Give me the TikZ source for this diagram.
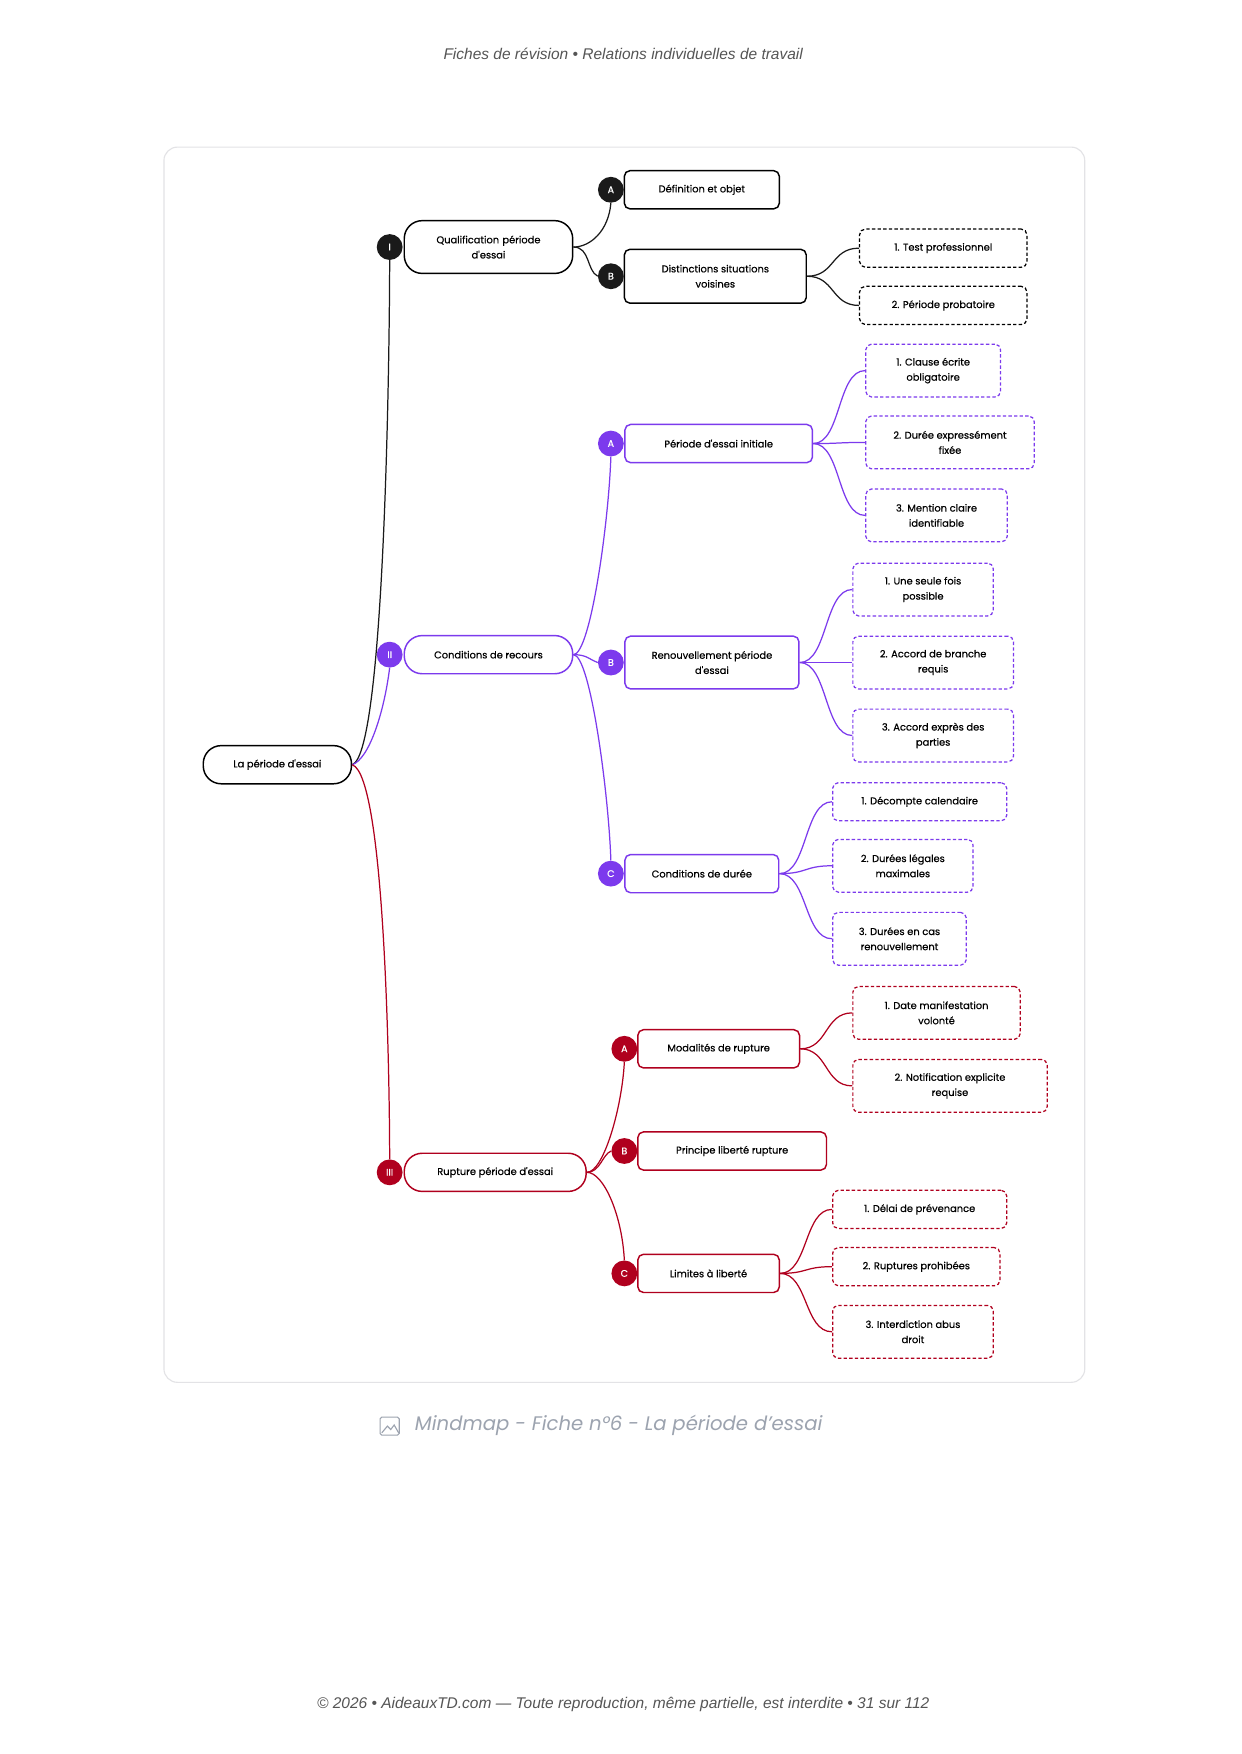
\documentclass[tikz,border=0pt]{standalone}
\usepackage{fontspec}
\setmainfont{Poppins}
\newfontfamily\hdr{Liberation Sans}
\newfontfamily\med[FakeBold=0.5]{Poppins}
\definecolor{cblk}{HTML}{1A1A1A}
\definecolor{cpur}{HTML}{7C3AED}
\definecolor{cred}{HTML}{B0001E}
\definecolor{cfrm}{HTML}{E3E3E6}
\definecolor{ctxt}{HTML}{555555}
\definecolor{ccap}{HTML}{9CA3AF}
\begin{document}
\begin{tikzpicture}[x=1pt,y=-1pt,
 txt/.style={font=\med\fontsize{8.8}{13.5}\selectfont, text=black, align=center},
 box/.style={txt, draw=#1, line width=1.3pt, rounded corners=5pt, inner sep=0pt},
 big/.style={txt, draw=#1, line width=1.3pt, rounded corners=16pt, inner sep=0pt},
 leaf/.style={txt, draw=#1, line width=1.1pt, dashed, dash pattern=on 3pt off 2pt, rounded corners=5pt, inner sep=0pt},
 dot/.style={circle, fill=#1, minimum size=23pt, inner sep=0pt, text=white, font=\med\fontsize{8.5}{9}\selectfont},
 ln/.style={draw=#1, line width=1.1pt}]
\useasboundingbox (0,0) rectangle (1106,1562);
\fill[white] (0,0) rectangle (1106,1562);
\draw[cfrm, line width=1pt, rounded corners=12pt] (146,131) rectangle (966,1231);
\node[font=\hdr\itshape\fontsize{13.8}{15}\selectfont, text=ctxt] at (555,48) {Fiches de révision • Relations individuelles de travail};
\node[font=\hdr\itshape\fontsize{13.8}{15}\selectfont, text=ctxt] at (555,1518) {© 2026 • AideauxTD.com — Toute reproduction, même partielle, est interdite • 31 sur 112};
\node[font=\fontsize{17.5}{20}\selectfont\itshape, text=ccap, anchor=west] (cap) at (366,1269) {Mindmap - Fiche n°6 - La période d'essai};
\node[draw=ccap, line width=1pt, rounded corners=1.5pt, minimum width=17pt, minimum height=16pt] (ic) at (347,1270) {};
\draw[ccap, line width=1pt] (340,1276) -- (345,1270) -- (348,1273) -- (351,1269) -- (355,1276);

% root
\node[big=black, minimum width=132pt, minimum height=34pt] (root) at (247,681) {La période d'essai};
% sections
\node[big=black, text width=140pt, minimum width=150pt, minimum height=47pt] (s1) at (435,220) {Qualification période\\d'essai};
\node[dot=cblk] (c1) at (347,220) {I};
\node[big=cpur, minimum width=150pt, minimum height=34pt] (s2) at (435,583) {Conditions de recours};
\node[dot=cpur] (c2) at (347,583) {II};
\node[big=cred, minimum width=162pt, minimum height=34pt] (s3) at (441,1044) {Rupture période d'essai};
\node[dot=cred] (c3) at (347,1044) {III};
\draw[ln=cblk] (root.east) .. controls +(30,-10) and +(0,60) .. (c1.south);
\draw[ln=cpur] (root.east) .. controls +(15,-5) and +(-5,40) .. (c2.south);
\draw[ln=cred] (root.east) .. controls +(30,10) and +(0,-60) .. (c3.north);

% section I
\node[box=black, minimum width=138pt, minimum height=34pt] (a1) at (625,169) {Définition et objet};
\node[dot=cblk] (a1c) at (544,169) {A};
\node[box=black, minimum width=162pt, minimum height=48pt] (b1) at (637,246) {Distinctions situations\\voisines};
\node[dot=cblk] (b1c) at (544,246) {B};
\draw[ln=cblk] (s1.east) .. controls +(15,0) and +(-2,25) .. (a1c.south);
\draw[ln=cblk] (s1.east) .. controls +(15,0) and +(-10,-5) .. (b1c.west);
\node[leaf=black, minimum width=149pt, minimum height=34pt] (l11) at (840,221) {1. Test professionnel};
\node[leaf=black, minimum width=149pt, minimum height=34pt] (l12) at (840,272) {2. Période probatoire};
\foreach \l in {l11,l12} \draw[ln=cblk] (b1.east) .. controls +(25,0) and +(-25,0) .. (\l.west);

% section II
\node[box=cpur, minimum width=167pt, minimum height=34pt] (a2) at (640,395) {Période d'essai initiale};
\node[dot=cpur] (a2c) at (544,395) {A};
\node[box=cpur, minimum width=155pt, minimum height=47pt] (b2) at (634,590) {Renouvellement période\\d'essai};
\node[dot=cpur] (b2c) at (544,590) {B};
\node[box=cpur, minimum width=137pt, minimum height=34pt] (cc2) at (625,778) {Conditions de durée};
\node[dot=cpur] (c2c) at (544,778) {C};
\draw[ln=cpur] (s2.east) .. controls +(15,0) and +(-2,60) .. (a2c.south);
\draw[ln=cpur] (s2.east) .. controls +(12,0) and +(-8,-3) .. (b2c.west);
\draw[ln=cpur] (s2.east) .. controls +(15,0) and +(-2,-60) .. (c2c.north);
\node[leaf=cpur, minimum width=120pt, minimum height=47pt] (l21) at (831,330) {1. Clause écrite\\obligatoire};
\node[leaf=cpur, minimum width=150pt, minimum height=47pt] (l22) at (846,394) {2. Durée expressément\\fixée};
\node[leaf=cpur, minimum width=126pt, minimum height=47pt] (l23) at (834,459) {3. Mention claire\\identifiable};
\foreach \l in {l21,l22,l23} \draw[ln=cpur] (a2.east) .. controls +(25,0) and +(-25,0) .. (\l.west);
\node[leaf=cpur, minimum width=125pt, minimum height=47pt] (l24) at (822,525) {1. Une seule fois\\possible};
\node[leaf=cpur, minimum width=143pt, minimum height=47pt] (l25) at (831,590) {2. Accord de branche\\requis};
\node[leaf=cpur, minimum width=143pt, minimum height=47pt] (l26) at (831,655) {3. Accord exprès des\\parties};
\foreach \l in {l24,l25,l26} \draw[ln=cpur] (b2.east) .. controls +(25,0) and +(-25,0) .. (\l.west);
\node[leaf=cpur, minimum width=155pt, minimum height=34pt] (l27) at (819,714) {1. Décompte calendaire};
\node[leaf=cpur, minimum width=125pt, minimum height=47pt] (l28) at (804,771) {2. Durées légales\\maximales};
\node[leaf=cpur, minimum width=119pt, minimum height=47pt] (l29) at (801,836) {3. Durées en cas\\renouvellement};
\foreach \l in {l27,l28,l29} \draw[ln=cpur] (cc2.east) .. controls +(25,0) and +(-25,0) .. (\l.west);

% section III
\node[box=cred, minimum width=144pt, minimum height=34pt] (a3) at (640,934) {Modalités de rupture};
\node[dot=cred] (a3c) at (556,934) {A};
\node[box=cred, minimum width=168pt, minimum height=34pt] (b3) at (652,1025) {Principe liberté rupture};
\node[dot=cred] (b3c) at (556,1025) {B};
\node[box=cred, minimum width=126pt, minimum height=34pt] (cc3) at (631,1134) {Limites à liberté};
\node[dot=cred] (c3c) at (556,1134) {C};
\draw[ln=cred] (s3.east) .. controls +(15,0) and +(-2,40) .. (a3c.south);
\draw[ln=cred] (s3.east) .. controls +(12,0) and +(-8,3) .. (b3c.west);
\draw[ln=cred] (s3.east) .. controls +(15,0) and +(-2,-40) .. (c3c.north);
\node[leaf=cred, minimum width=149pt, minimum height=47pt] (l31) at (834,902) {1. Date manifestation\\volonté};
\node[leaf=cred, minimum width=173pt, minimum height=47pt] (l32) at (846,967) {2. Notification explicite\\requise};
\foreach \l in {l31,l32} \draw[ln=cred] (a3.east) .. controls +(25,0) and +(-25,0) .. (\l.west);
\node[leaf=cred, minimum width=155pt, minimum height=34pt] (l33) at (819,1077) {1. Délai de prévenance};
\node[leaf=cred, minimum width=149pt, minimum height=34pt] (l34) at (816,1128) {2. Ruptures prohibées};
\node[leaf=cred, minimum width=143pt, minimum height=47pt] (l35) at (813,1186) {3. Interdiction abus\\droit};
\foreach \l in {l33,l34,l35} \draw[ln=cred] (cc3.east) .. controls +(25,0) and +(-25,0) .. (\l.west);
\end{tikzpicture}
\end{document}
